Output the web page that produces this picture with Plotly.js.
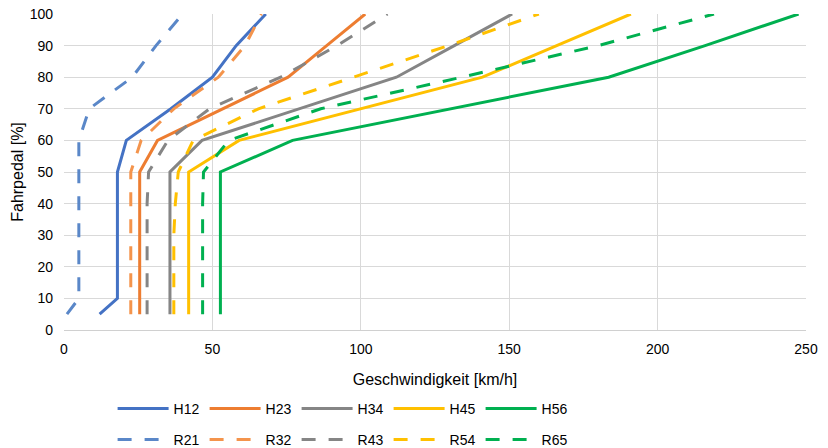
<!DOCTYPE html>
<html>
<head>
<meta charset="utf-8">
<script src="https://cdn.plot.ly/plotly-3.0.1.min.js"></script>
<style>html,body{margin:0;padding:0;background:#fff;}#chart{width:828px;height:448px;}</style>
</head>
<body>
<div id="chart"></div>
<script>
// Fahrpedal [%] (y values shared by all series)
var fahrpedal = [5, 10, 20, 30, 40, 50, 60, 70, 80, 90, 100];

// Geschwindigkeit [km/h] per series
var H12 = [12, 18, 18, 18, 18, 18, 21, 36, 50, 58, 68];
var H23 = [25.5, 25.5, 25.5, 25.5, 25.5, 25.5, 31.5, 53.5, 75.5, 88.5, 101.5];
var H34 = [35.7, 35.7, 35.7, 35.7, 35.7, 35.7, 46.5, 79, 112, 131.5, 151];
var H45 = [42, 42, 42, 42, 42, 42, 59, 100, 141, 166, 191];
var H56 = [52.7, 52.7, 52.7, 52.7, 52.7, 52.7, 77, 130, 183.5, 216, 247.5];
var R21 = [1, 5, 5, 5, 5, 5, 5, 8.5, 23, 31, 40];
var R32 = [22.5, 22.5, 22.5, 22.5, 22.5, 22.5, 26, 37, 52, 61, 66.5];
var R43 = [28, 28, 28, 28, 28, 28.5, 35, 49, 73, 92, 109];
var R54 = [37, 37, 37, 37, 37.5, 38.5, 43.5, 65.5, 97.5, 129.5, 160];
var R65 = [46.7, 46.7, 46.7, 46.7, 46.7, 47, 55.5, 86.5, 134, 180, 219];

var seriesNames = ['H12', 'H23', 'H34', 'H45', 'H56', 'R21', 'R32', 'R43', 'R54', 'R65'];
var seriesData = [H12, H23, H34, H45, H56, R21, R32, R43, R54, R65];
var seriesColors = ['#4472C4', '#ED7D31', '#858585', '#FFC000', '#00B050',
                    '#5A87C8', '#F4944C', '#858585', '#FFC000', '#00B050'];

var traces = seriesNames.map(function (name, i) {
  var dashed = name.charAt(0) === 'R';
  return {
    type: 'scatter',
    mode: 'lines',
    name: name,
    x: seriesData[i],
    y: fahrpedal,
    line: {color: seriesColors[i], width: 3, dash: dashed ? '14px,13px' : 'solid'},
    legend: dashed ? 'legend2' : 'legend',
    hoverinfo: 'skip'
  };
});

var font = {family: 'Liberation Sans, Arial, sans-serif', color: '#000', size: 14};
var legendCommon = {
  orientation: 'h',
  xref: 'paper',
  yref: 'container',
  xanchor: 'left',
  yanchor: 'middle',
  x: 0.0655,
  entrywidth: 26,
  entrywidthmode: 'pixels',
  itemwidth: 51,
  bgcolor: 'rgba(0,0,0,0)',
  font: {family: font.family, size: 14, color: '#000'},
  tracegroupgap: 0
};
var legend1 = Object.assign({}, legendCommon, {y: 1 - 409 / 448});
var legend2 = Object.assign({}, legendCommon, {y: 1 - 440 / 448});

var layout = {
  width: 828,
  height: 448,
  margin: {l: 63.5, r: 22, t: 14, b: 118, autoexpand: false},
  paper_bgcolor: '#fff',
  plot_bgcolor: '#fff',
  font: font,
  showlegend: true,
  legend: legend1,
  legend2: legend2,
  xaxis: {
    range: [0, 250],
    dtick: 50,
    tick0: 0,
    showgrid: true,
    gridcolor: '#D9D9D9',
    gridwidth: 1,
    zeroline: false,
    showline: false,
    ticks: '',
    ticklabelstandoff: 9,
    tickfont: {size: 14, family: font.family, color: '#000'},
    title: {text: 'Geschwindigkeit [km/h]', font: {size: 16, family: font.family, color: '#000'}, standoff: 17},
    fixedrange: true
  },
  yaxis: {
    range: [0, 100],
    dtick: 10,
    tick0: 0,
    showgrid: true,
    gridcolor: '#D9D9D9',
    gridwidth: 1,
    zeroline: true,
    zerolinecolor: '#D0D0D0',
    zerolinewidth: 1,
    ticks: '',
    ticklabelstandoff: 10,
    tickfont: {size: 14, family: font.family, color: '#000'},
    title: {text: 'Fahrpedal [%]', font: {size: 16, family: font.family, color: '#000'}, standoff: 2},
    fixedrange: true
  }
};

Plotly.newPlot('chart', traces, layout, {displayModeBar: false, staticPlot: true}).then(function () {
  var paths = document.querySelectorAll('.legendlines path');
  paths.forEach(function (p) { p.setAttribute('d', 'M5,0h51'); });
});
</script>
</body>
</html>
